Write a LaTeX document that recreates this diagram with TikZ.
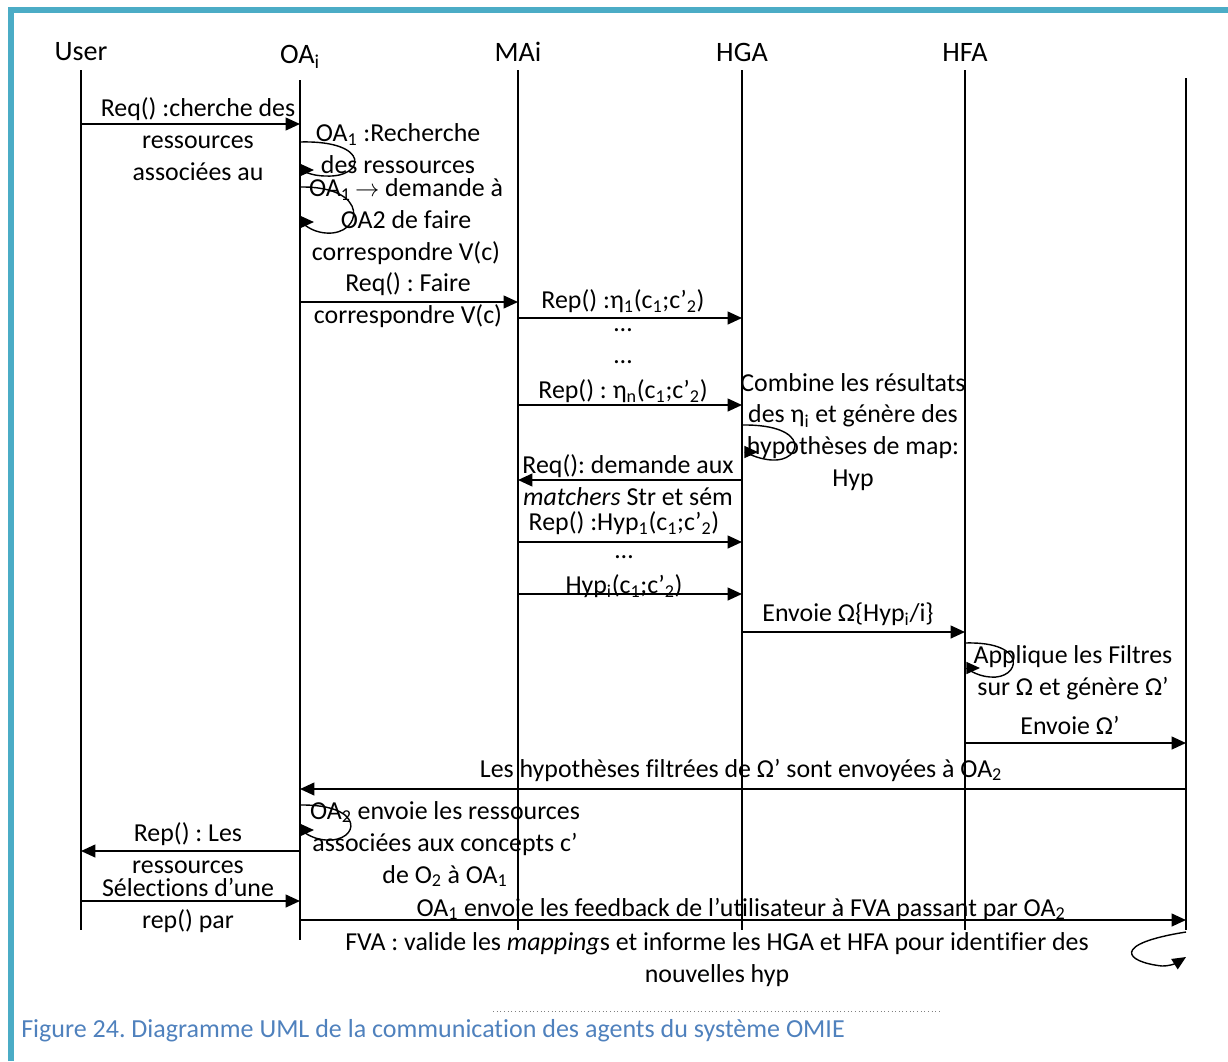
\documentclass[tikz,border=0pt]{standalone}
\usepackage{fontspec}
\setmainfont[Ligatures=NoCommon]{Carlito}
\usetikzlibrary{arrows.meta, positioning, calc}
\definecolor{framecol}{HTML}{4BACC6}
\definecolor{capcol}{HTML}{4F81BD}
\frenchspacing

\begin{document}
\begin{tikzpicture}[
    x=0.025cm, y=-0.025cm,
    head/.style={font=\fontsize{20}{24}\selectfont},
    lbl/.style={align=center, font=\fontsize{18.4}{22.7}\selectfont, inner sep=0pt},
    life/.style={line width=1.2pt},
    msg/.style={-{Triangle[length=3.6mm, width=3.2mm]}, line width=1.3pt},
    selfloop/.style={-{Triangle[length=3.4mm, width=3mm]}, line width=1pt}
]
\useasboundingbox (0,0) rectangle (1228,1061);
% Frame
\draw[framecol, line width=4.5pt] (11,1061) -- (11,10) -- (1228,10);

% Lifeline heads
\node[head] (user) at (81,52) {User};
\node[head] (oa) at (300,57) {OA\textsubscript{i}};
\node[head] (mai) at (518,52) {MAi};
\node[head] (hga) at (742,52) {HGA};
\node[head] (hfa) at (965,52) {HFA};
\coordinate (fva) at (1186,78);

% Lifelines
\draw[life] (user |- 0,70) -- (user |- 0,930);
\draw[life] (oa |- 0,80) -- (oa |- 0,940);
\draw[life] (mai |- 0,70) -- (mai |- 0,930);
\draw[life] (hga |- 0,70) -- (hga |- 0,930);
\draw[life] (hfa |- 0,70) -- (hfa |- 0,930);
\draw[life] (fva) -- (fva |- 0,930);

% Messages
\draw[msg] (user |- 0,124) -- (oa |- 0,124);
\draw[msg] (oa |- 0,302) -- (mai |- 0,302);
\draw[msg] (mai |- 0,318) -- (hga |- 0,318);
\draw[msg] (mai |- 0,405) -- (hga |- 0,405);
\draw[msg] (hga |- 0,480) -- (mai |- 0,480);
\draw[msg] (mai |- 0,542) -- (hga |- 0,542);
\draw[msg] (mai |- 0,594) -- (hga |- 0,594);
\draw[msg] (hga |- 0,632) -- (hfa |- 0,632);
\draw[msg] (hfa |- 0,743) -- (fva |- 0,743);
\draw[msg] (fva |- 0,789) -- (oa |- 0,789);
\draw[msg] (oa |- 0,851) -- (user |- 0,851);
\draw[msg] (user |- 0,901) -- (oa |- 0,901);
\draw[msg] (oa |- 0,920) -- (fva |- 0,920);

% Self messages
\draw[selfloop] (oa |- 0,142) .. controls (372,140) and (365,178) .. (326,176) .. controls (310,176) and (302,170) .. (314,170);
\draw[selfloop] (oa |- 0,187) .. controls (372,186) and (362,236) .. (326,233) .. controls (310,232) and (302,222) .. (314,222);
\draw[selfloop] (hga |- 0,425) .. controls (812,424) and (802,462) .. (772,460) .. controls (756,459) and (746,452) .. (758,452);
\draw[selfloop] (hfa |- 0,643) .. controls (1030,641) and (1020,680) .. (990,677) .. controls (976,676) and (966,668) .. (980,668);
\draw[selfloop] (oa |- 0,805) .. controls (366,804) and (360,842) .. (326,840) .. controls (310,839) and (302,830) .. (314,830);
\draw[selfloop] (fva |- 0,932) .. controls (1110,944) and (1125,962) .. (1162,966) .. controls (1172,966) and (1178,962) .. (1186,957);

% Labels
\node[lbl] (m1) at (198,139) {Req() :cherche des\\ressources\\associées au};
\node[lbl] (m2) at (398,149) {OA\textsubscript{1} :Recherche\\des ressources};
\node[lbl] (m3) at (406,222) {OA\textsubscript{1}\,\ensuremath{\rightarrow} demande à\\OA2 de faire\\correspondre V(c)};
\node[lbl] (m4) at (408,300) {Req() : Faire\\correspondre V(c)};
\node[lbl] (m5) at (623,301) {Rep() :η\textsubscript{1}(c\textsubscript{1};c’\textsubscript{2})};
\node[lbl] (d1) at (623,330) {…};
\node[lbl] (d2) at (623,362) {…};
\node[lbl] (m6) at (623,391) {Rep() : η\textsubscript{n}(c\textsubscript{1};c’\textsubscript{2})};
\node[lbl] (m7) at (853,432) {Combine les résultats\\des η\textsubscript{i} et génère des\\hypothèses de map:\\Hyp};
\node[lbl] (m8) at (628,480) {Req(): demande aux\\\textit{matchers} Str et sém};
\node[lbl] (m9) at (624,523) {Rep() :Hyp\textsubscript{1}(c\textsubscript{1};c’\textsubscript{2})};
\node[lbl] (d3) at (624,557) {…};
\node[lbl] (m10) at (624,586) {Hyp\textsubscript{i}(c\textsubscript{1};c’\textsubscript{2})};
\node[lbl] (m11) at (848,614) {Envoie Ω\{Hyp\textsubscript{i}/i\}};
\node[lbl] (m12) at (1073,673) {Applique les Filtres\\sur Ω et génère Ω’};
\node[lbl] (m13) at (1070,725) {Envoie Ω’};
\node[lbl] (m14) at (741,770) {Les hypothèses filtrées de Ω’ sont envoyées à OA\textsubscript{2}};
\node[lbl] (m15) at (445,844) {OA\textsubscript{2} envoie les ressources\\associées aux concepts c’\\de O\textsubscript{2} à OA\textsubscript{1}};
\node[lbl] (m16) at (188,848) {Rep() : Les\\ressources};
\node[lbl] (m17) at (188,905) {Sélections d’une\\rep() par};
\node[lbl] (m18) at (741,909) {OA\textsubscript{1} envoie les feedback de l’utilisateur à FVA passant par OA\textsubscript{2}};
\node[lbl] (m19) at (717,960) {FVA : valide les \textit{mapping}s et informe les HGA et HFA pour identifier des\\nouvelles hyp};

% Caption
\draw[gray, dotted, line width=0.6pt] (493,1011) -- (940,1011);
\node[anchor=west, inner sep=0pt, text=capcol, font=\fontsize{18.5}{22}\selectfont] (cap) at (21,1031) {Figure 24. Diagramme UML de la communication des agents du système OMIE};
\end{tikzpicture}
\end{document}
